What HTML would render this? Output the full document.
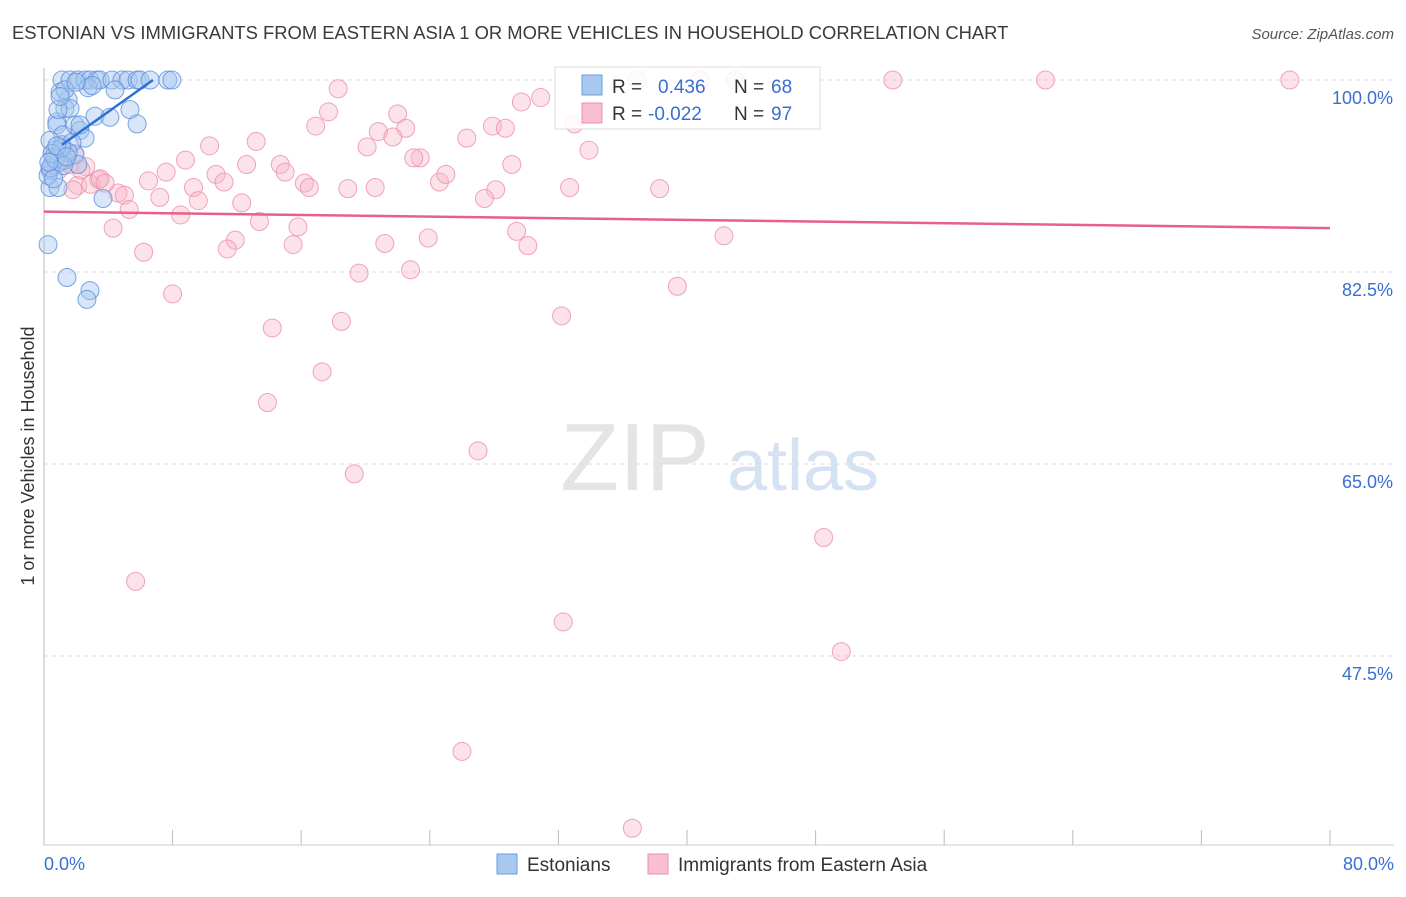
<!DOCTYPE html>
<html><head><meta charset="utf-8"><style>
body{margin:0;background:#fff;font-family:"Liberation Sans",sans-serif}
svg text{font-family:"Liberation Sans",sans-serif}
</style></head><body>
<svg id="chart" width="1406" height="892" xmlns="http://www.w3.org/2000/svg">
<text x="12" y="39" font-size="18.4" fill="#3a3a3a">ESTONIAN VS IMMIGRANTS FROM EASTERN ASIA 1 OR MORE VEHICLES IN HOUSEHOLD CORRELATION CHART</text>
<text x="1394" y="39" font-size="15" fill="#555" text-anchor="end" font-style="italic">Source: ZipAtlas.com</text>
<text transform="translate(34,456) rotate(-90)" font-size="18" fill="#333" text-anchor="middle">1 or more Vehicles in Household</text>
<g>
<text x="635" y="490" font-size="96" fill="#e4e4e4" text-anchor="middle" font-family="Liberation Serif,serif">ZIP</text>
<text x="803" y="490" font-size="72" fill="#d5e2f2" text-anchor="middle">atlas</text></g>
<g id="grid"></g><g id="marks"></g>
<g>
<rect x="555" y="67" width="265" height="62" fill="#fff" fill-opacity="0.85" stroke="#ddd"/>
<rect x="582" y="75" width="20" height="20" fill="#a9c8f0" stroke="#6a9de0"/>
<rect x="582" y="103" width="20" height="20" fill="#f8bfd0" stroke="#ec8fac"/>
<text x="612" y="93" font-size="19" fill="#333">R =</text><text x="658" y="93" font-size="19" fill="#3a6fd0">0.436</text>
<text x="734" y="93" font-size="19" fill="#333">N =</text><text x="771" y="93" font-size="19" fill="#3a6fd0">68</text>
<text x="612" y="120" font-size="19" fill="#333">R =</text><text x="648" y="120" font-size="19" fill="#3a6fd0">-0.022</text>
<text x="734" y="120" font-size="19" fill="#333">N =</text><text x="771" y="120" font-size="19" fill="#3a6fd0">97</text></g>
<g>
<rect x="497" y="854" width="20" height="20" fill="#a9c8f0" stroke="#6a9de0"/>
<text x="527" y="871" font-size="19" fill="#333">Estonians</text>
<rect x="648" y="854" width="20" height="20" fill="#f8bfd0" stroke="#ec8fac"/>
<text x="678" y="871" font-size="19" fill="#333">Immigrants from Eastern Asia</text></g>
</svg>
<script>
const yTicks=[100,82.5,65,47.5];
const yTickLabels=["100.0%","82.5%","65.0%","47.5%"];
const xTicks=[0,8,16,24,32,40,48,56,64,72,80];
const xEndLabels=["0.0%","80.0%"];
const blueX=[0.37,0.8,1.12,1.0,1.5,1.62,2.1,2.55,2.86,3.3,3.48,4.23,4.85,5.23,5.79,5.97,6.6,7.7,7.96,1.3,1.62,0.8,1.18,1.93,2.24,2.55,3.17,4.1,5.35,5.79,1.0,0.68,1.3,0.37,1.93,2.1,0.87,3.67,0.25,1.43,2.86,2.67,1.12,1.74,2.24,0.87,1.3,2.74,4.42,0.5,0.25,0.68,1.5,0.37,0.6,0.9,1.1,0.4,0.7,1.2,0.5,0.8,3.0,2.0,1.0,0.3,0.6,1.4];
const blueY=[90.2,96.2,100,98.9,98.2,100,100,100,100,100,100,100,100,100,100,100,100,100,100,97.4,97.4,95.9,95.0,95.9,95.4,94.7,96.7,96.6,97.3,96.0,93.6,92.7,92.7,91.8,93.2,92.3,90.2,89.2,85.0,82.0,80.8,80.0,94.1,94.3,95.9,97.3,99.1,99.3,99.1,92.3,91.3,93.6,93.4,94.5,93.0,92.5,93.8,92.0,92.8,92.2,93.3,94.0,99.5,99.8,98.5,92.5,91.0,93.0];
const pinkX=[36.9,40.8,43.0,52.8,62.3,77.5,18.3,29.7,30.9,17.7,22.0,16.9,27.9,28.7,20.8,22.5,26.3,13.2,10.3,20.1,21.7,33.9,23.4,23.0,29.1,14.7,8.8,12.6,2.6,7.6,10.7,15.0,16.2,16.5,11.2,24.6,25.0,6.5,9.3,18.9,20.6,28.1,32.7,38.3,3.4,2.1,1.8,4.6,5.0,7.2,9.6,12.3,27.4,5.3,8.5,4.3,13.4,15.8,11.9,11.4,15.5,23.9,21.2,29.4,30.1,42.3,6.2,19.6,22.8,8.0,39.4,32.2,18.5,14.2,17.3,13.9,27.0,19.3,48.5,5.7,32.3,49.6,26.0,36.6,0.9,1.3,1.6,2.9,3.5,0.6,1.0,1.9,2.3,0.4,1.2,3.8,33.0];
const pinkY=[100,100,100,100,100,100,99.2,98.0,98.4,97.1,96.9,95.8,95.8,95.6,95.3,95.6,94.7,94.4,94.0,93.9,94.8,93.6,92.9,92.9,92.3,92.3,92.7,92.3,92.1,91.6,91.4,91.6,90.6,90.2,90.7,90.7,91.4,90.8,90.2,90.1,90.2,90.0,90.2,90.1,90.9,90.4,90.0,89.7,89.5,89.3,89.0,88.8,89.2,88.2,87.7,86.5,87.1,86.6,85.4,84.6,85.0,85.6,85.1,86.2,84.9,85.8,84.3,82.4,82.7,80.5,81.2,78.5,78.0,77.4,73.4,70.6,66.2,64.1,58.3,54.3,50.6,47.9,38.8,31.8,91.8,92.7,92.3,90.5,91.0,93.0,92.5,93.3,91.8,92.0,93.8,90.6,96.0];
const blueTrendX=[1.12,6.78], blueTrendY=[94.1,100];
const pinkTrendX=[0,80], pinkTrendY=[88.0,86.5];
const sx=v=>44+v*16.075, sy=v=>80+(100-v)*10.971;
const NS="http://www.w3.org/2000/svg";
function mk(p,t,a){const e=document.createElementNS(NS,t);for(const k in a)e.setAttribute(k,a[k]);p.appendChild(e);return e;}
const grid=document.getElementById('grid'), marks=document.getElementById('marks');
yTicks.forEach((v,i)=>{
 const l=mk(grid,'line',{x1:44,x2:1394,y1:sy(v),y2:sy(v),stroke:'#ddd','stroke-dasharray':'4,4'});
 
 
 const t=mk(grid,'text',{x:1393,y:sy(v)+24,'font-size':18,fill:'#3a6fd0','text-anchor':'end'});
 t.textContent=yTickLabels[i];
 
 
});
const ax=mk(grid,'line',{x1:44,x2:44,y1:68,y2:845,stroke:'#bbb'});


const bx=mk(grid,'line',{x1:44,x2:1394,y1:845,y2:845,stroke:'#ccc'});


xTicks.forEach(v=>{const t=mk(grid,'line',{x1:sx(v),x2:sx(v),y1:830,y2:845,stroke:'#bbb'});
 
 });
[[0,'start',44],[1,'end',1394]].forEach(([i,a,x])=>{const t=mk(grid,'text',{x:x,y:870,'font-size':18,fill:'#3a6fd0','text-anchor':a});t.textContent=xEndLabels[i];
 
 });
pinkX.forEach((x,i)=>{const c=mk(marks,'circle',{cx:sx(x),cy:sy(pinkY[i]),r:9,fill:'#f7b6c9','fill-opacity':0.4,stroke:'#ec8fac','stroke-opacity':0.8});
 
 });
blueX.forEach((x,i)=>{const c=mk(marks,'circle',{cx:sx(x),cy:sy(blueY[i]),r:9,fill:'#a9c8f0','fill-opacity':0.45,stroke:'#5b8fdc','stroke-opacity':0.8});
 
 });
const bt=mk(marks,'line',{x1:sx(blueTrendX[0]),y1:sy(blueTrendY[0]),x2:sx(blueTrendX[1]),y2:sy(blueTrendY[1]),stroke:'#2f6fd6','stroke-width':2.5});


const pt=mk(marks,'line',{x1:sx(pinkTrendX[0]),y1:sy(pinkTrendY[0]),x2:sx(pinkTrendX[1]),y2:sy(pinkTrendY[1]),stroke:'#e8608a','stroke-width':2.5});


</script>
</body></html>
